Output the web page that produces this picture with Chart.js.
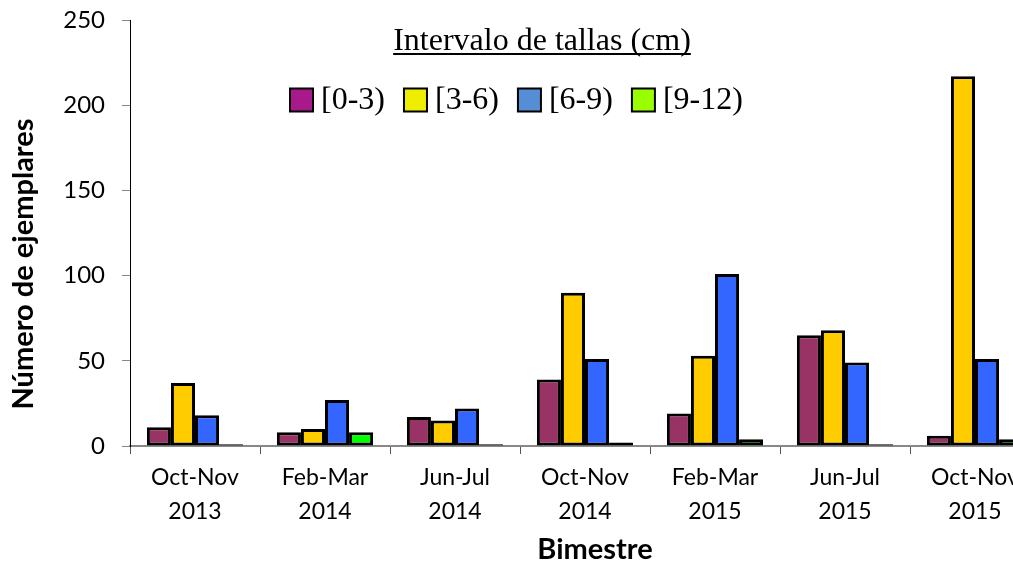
<!DOCTYPE html>
<html>
<head>
<meta charset="utf-8">
<script src="https://cdn.jsdelivr.net/npm/chart.js@4"></script>
<style>
  html, body { margin: 0; padding: 0; background: #fff; overflow: hidden; }
  #wrap { position: relative; width: 1013px; height: 569px; overflow: hidden; }
  #chart { position: absolute; left: 0; top: 0; }
</style>
</head>
<body>
<div id="wrap"><canvas id="chart" width="1045" height="569"></canvas></div>
<script>
// categories (bimestres)
const bimestres = [
  ['Oct-Nov', '2013'], ['Feb-Mar', '2014'], ['Jun-Jul', '2014'], ['Oct-Nov', '2014'],
  ['Feb-Mar', '2015'], ['Jun-Jul', '2015'], ['Oct-Nov', '2015']
];

// size intervals
const intervalos = ['[0-3)', '[3-6)', '[6-9)', '[9-12)'];

// number of specimens per interval
const talla0_3 = [11, 8, 17, 39, 19, 65, 6];
const talla3_6 = [37, 10, 15, 90, 53, 68, 217];
const talla6_9 = [18, 27, 22, 51, 101, 49, 51];
const talla9_12 = [1, 8, 1, 2, 4, 1, 4];

// y axis
const yMin = 0, yMax = 250, yStep = 50;

const barColors = ['#993366', '#FFCC00', '#3366FF', '#00FF00'];
const legendColors = ['#A8198A', '#EEEE00', '#558ED5', '#99FF00'];

const series = [talla0_3, talla3_6, talla6_9, talla9_12];

// legend + axis titles drawn by hand to follow the original layout
const decorPlugin = {
  id: 'decor',
  afterDraw(chart) {
    const ctx = chart.ctx;
    ctx.save();

    // legend title
    ctx.font = '32px "Liberation Serif", "Times New Roman", serif';
    ctx.fillStyle = '#000';
    ctx.textBaseline = 'alphabetic';
    ctx.textAlign = 'center';
    const title = 'Intervalo de tallas (cm)';
    const tx = 542, ty = 50;
    ctx.fillText(title, tx, ty);
    const tw = ctx.measureText(title).width;
    ctx.fillRect(tx - tw / 2, ty + 3, tw, 2);

    // legend items
    ctx.textAlign = 'left';
    ctx.textBaseline = 'middle';
    let x = 290;
    const cy = 100, box = 23;
    chart.data.datasets.forEach((ds, i) => {
      ctx.fillStyle = legendColors[i];
      ctx.fillRect(x, cy - box / 2, box, box);
      ctx.lineWidth = 2;
      ctx.strokeStyle = '#000';
      ctx.strokeRect(x, cy - box / 2, box, box);
      ctx.fillStyle = '#000';
      ctx.fillText(ds.label, x + box + 8, cy + 1);
      x += box + 8 + ctx.measureText(ds.label).width + 19;
    });

    // y axis title
    ctx.font = 'bold 29px Lato, "Open Sans", sans-serif';
    ctx.textAlign = 'center';
    ctx.textBaseline = 'middle';
    ctx.translate(24, 264);
    ctx.rotate(-Math.PI / 2);
    ctx.fillText('Número de ejemplares', 0, 0);
    ctx.restore();

    ctx.save();
    ctx.font = 'bold 29px Lato, "Open Sans", sans-serif';
    ctx.fillStyle = '#000';
    ctx.textAlign = 'center';
    ctx.textBaseline = 'middle';
    ctx.fillText('Bimestre', 595, 550);
    ctx.restore();
  }
};

new Chart(document.getElementById('chart'), {
  type: 'bar',
  data: {
    labels: bimestres,
    datasets: intervalos.map((lab, i) => ({
      label: lab,
      data: series[i],
      backgroundColor: barColors[i],
      borderColor: '#000',
      borderWidth: 3,
      borderSkipped: false,
      categoryPercentage: 0.74,
      barPercentage: 1.0
    }))
  },
  options: {
    responsive: false,
    animation: false,
    layout: { padding: { top: 20, right: 5, left: 0, bottom: 0 } },
    plugins: {
      legend: { display: false },
      tooltip: { enabled: false }
    },
    scales: {
      x: {
        afterFit(scale) { scale.height = 123; },
        grid: { drawOnChartArea: false, tickLength: 8, color: '#555', offset: true },
        border: { color: '#888', width: 2 },
        ticks: {
          color: '#000',
          padding: 7,
          maxRotation: 0,
          autoSkip: false,
          font: { family: 'Lato, "Open Sans", sans-serif', size: 23, lineHeight: 1.48 }
        }
      },
      y: {
        min: yMin,
        max: yMax,
        afterFit(scale) {
          scale.width = 130;
          scale.paddingTop = 0;
          scale.paddingBottom = 0;
        },
        grid: { drawOnChartArea: false, tickLength: 8, color: '#888' },
        border: { color: '#000', width: 1 },
        ticks: {
          stepSize: yStep,
          color: '#000',
          padding: 17,
          font: { family: 'Lato, "Open Sans", sans-serif', size: 24 }
        }
      }
    }
  },
  plugins: [decorPlugin]
});
</script>
</body>
</html>
